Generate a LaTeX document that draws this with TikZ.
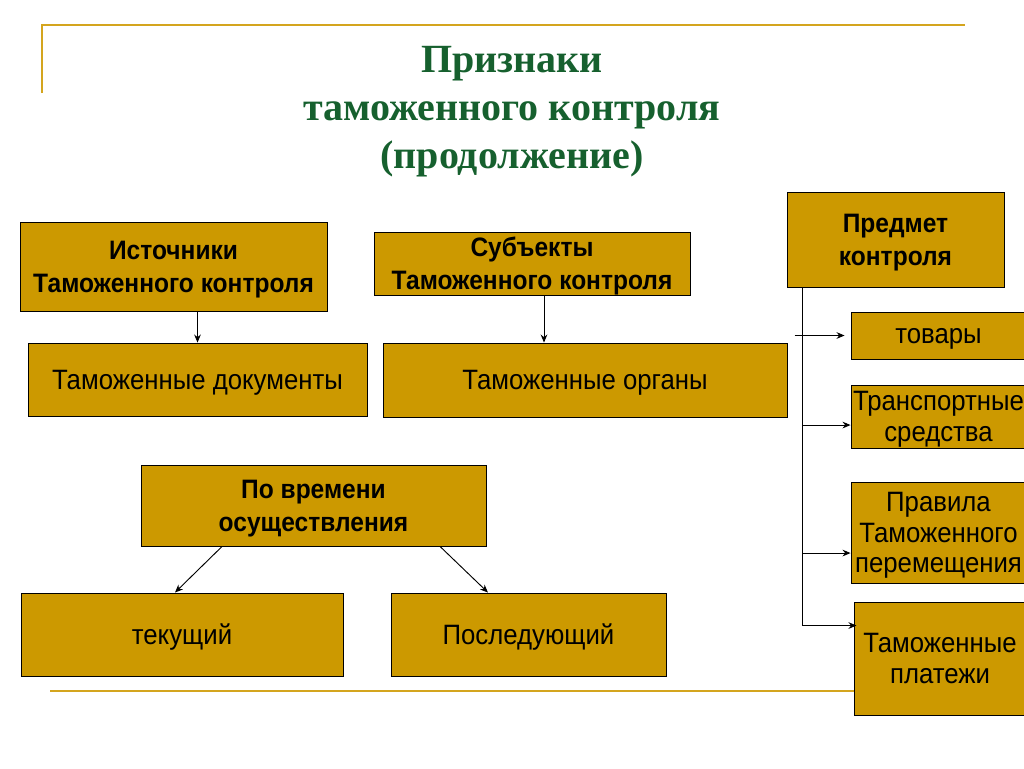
\documentclass[tikz,border=0pt]{standalone}
\usepackage{fontspec}
\setmainfont{Liberation Sans}
\newfontfamily\narrowfont[FakeStretch=0.92]{Liberation Sans}
\newfontfamily\titlefont{Liberation Serif}
\usetikzlibrary{arrows.meta}
\definecolor{boxgold}{RGB}{204,153,0}
\definecolor{linegold}{RGB}{212,165,30}
\definecolor{titlegreen}{RGB}{22,96,46}
\tikzset{
	box/.style={draw=black,fill=boxgold,line width=0.7pt,inner sep=0pt,align=center,text depth=0pt},
	headbox/.style={box,font=\narrowfont\bfseries\fontsize{20}{24.5}\selectfont},
	leafbox/.style={box,font=\narrowfont\fontsize{21}{23}\selectfont},
	link/.style={line width=0.7pt,->},
}
\begin{document}
\begin{tikzpicture}[x=0.75pt,y=-0.75pt,>={Stealth[length=6pt,width=5pt]}]
	\useasboundingbox (0,0) rectangle (1024,768);
	\clip (0,0) rectangle (1024,768);
	% frame lines
	\draw[linegold,line width=1.5pt] (42,93)--(42,25)--(965,25);
	\draw[linegold,line width=1.5pt] (50,691)--(860,691);
	% title
	\node[font=\titlefont\bfseries\fontsize{30}{36}\selectfont,text=titlegreen,align=center] (title) at (512,112) {Признаки\\таможенного контроля\\(продолжение)};
	% left and middle columns
	\node[headbox,minimum width=230.25pt,minimum height=66.75pt] (src) at (173.5,266.5) {Источники\\Таможенного контроля};
	\node[leafbox,minimum width=254.25pt,minimum height=54.75pt] (docs) at (197.5,379.5) {Таможенные документы};
	\node[headbox,minimum width=237pt,minimum height=47.25pt] (subj) at (532,263.5) {Субъекты\\Таможенного контроля};
	\node[leafbox,minimum width=303pt,minimum height=55.5pt] (organs) at (585,380) {Таможенные органы};
	\node[headbox,minimum width=258.75pt,minimum height=60.75pt] (time) at (313.5,505.5) {По времени\\осуществления};
	\node[leafbox,minimum width=241.5pt,minimum height=62.25pt] (cur) at (182,634.5) {текущий};
	\node[leafbox,minimum width=206.25pt,minimum height=62.25pt] (next) at (528.5,634.5) {Последующий};
	% right column
	\node[headbox,minimum width=162.75pt,minimum height=71.25pt] (object) at (895.5,239.5) {Предмет\\контроля};
	\node[leafbox,minimum width=131.25pt,minimum height=35.25pt] (goods) at (938.5,335.5) {товары};
	\node[leafbox,minimum width=131.25pt,minimum height=47.25pt] (transport) at (938.5,416.5) {Транспортные\\средства};
	\node[leafbox,minimum width=131.25pt,minimum height=75.75pt] (rules) at (938.5,532.5) {Правила\\Таможенного\\перемещения};
	\node[leafbox,minimum width=129pt,minimum height=84.75pt] (pay) at (940,658.5) {Таможенные\\платежи};
	% connectors
	\draw[link] (docs.north |- src.south)--(docs.north);
	\draw[link] ([xshift=9pt]subj.south)--([xshift=9pt]subj.south |- organs.north);
	\draw[link] ([xshift=-68.6pt]time.south)--([xshift=-5.25pt]cur.north);
	\draw[link] ([xshift=94.9pt]time.south)--([xshift=-30.4pt]next.north);
	\coordinate (trunk) at ([xshift=12pt]object.south west);
	\coordinate (payrow) at ([yshift=-18pt]pay.north west);
	\coordinate (trunkend) at (trunk |- payrow);
	\draw[line width=0.7pt] (trunk)--(trunkend);
	\draw[link] ([xshift=-6pt]trunk |- goods.west)--([xshift=-4.5pt]goods.west);
	\draw[link] ([yshift=-6.4pt]trunk |- transport.west)--([yshift=-6.4pt]transport.west);
	\draw[link] ([yshift=-15.4pt]trunk |- rules.west)--([yshift=-15.4pt]rules.west);
	\draw[link] (trunkend)--([xshift=2.2pt]payrow);
\end{tikzpicture}
\end{document}
